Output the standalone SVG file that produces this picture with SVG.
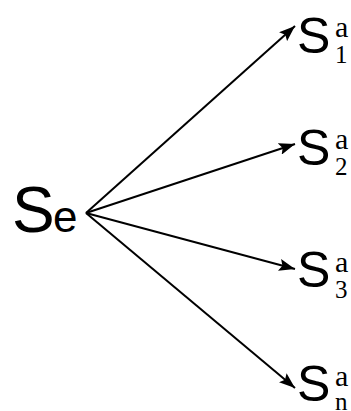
<svg xmlns="http://www.w3.org/2000/svg" width="351" height="411" viewBox="0 0 351 411">
<style>
.S{font-family:"Liberation Sans",Arial,sans-serif;fill:#000}
.sup{font-family:"Liberation Serif","Times New Roman",serif;font-size:30px;fill:#000}
.sub{font-family:"Liberation Serif","Times New Roman",serif;font-size:25px;fill:#000}
.c{stroke:#000;stroke-width:2;fill:none}
</style>
<defs>
<marker id="ah" viewBox="0 0 16 12" refX="16" refY="6" markerWidth="16" markerHeight="12" markerUnits="userSpaceOnUse" orient="auto">
<path d="M0,0 L16,6 L0,12 L3,6 Z" fill="#000"/>
</marker>
</defs>
<rect width="351" height="411" fill="#fff"/>
<g id="connectors">
<line class="c" x1="86" y1="213" x2="295" y2="26" marker-end="url(#ah)"/>
<line class="c" x1="86" y1="213" x2="295" y2="144" marker-end="url(#ah)"/>
<line class="c" x1="86" y1="213" x2="295" y2="269" marker-end="url(#ah)"/>
<line class="c" x1="86" y1="213" x2="295" y2="388" marker-end="url(#ah)"/>
</g>
<g id="Se">
<text class="S" x="12" y="232" font-size="64">S</text>
<text class="S" x="53" y="232" font-size="44">e</text>
</g>
<g id="S1">
<text class="S" x="297" y="53" font-size="50">S</text>
<text class="sup" x="335" y="37">a</text>
<text class="sub" x="335" y="63">1</text>
</g>
<g id="S2">
<text class="S" x="297" y="165" font-size="50">S</text>
<text class="sup" x="335" y="149">a</text>
<text class="sub" x="335" y="175">2</text>
</g>
<g id="S3">
<text class="S" x="297" y="287" font-size="50">S</text>
<text class="sup" x="335" y="272">a</text>
<text class="sub" x="335" y="298">3</text>
</g>
<g id="Sn">
<text class="S" x="297" y="401" font-size="50">S</text>
<text class="sup" x="335" y="386">a</text>
<text class="sub" x="335" y="410">n</text>
</g>
</svg>
